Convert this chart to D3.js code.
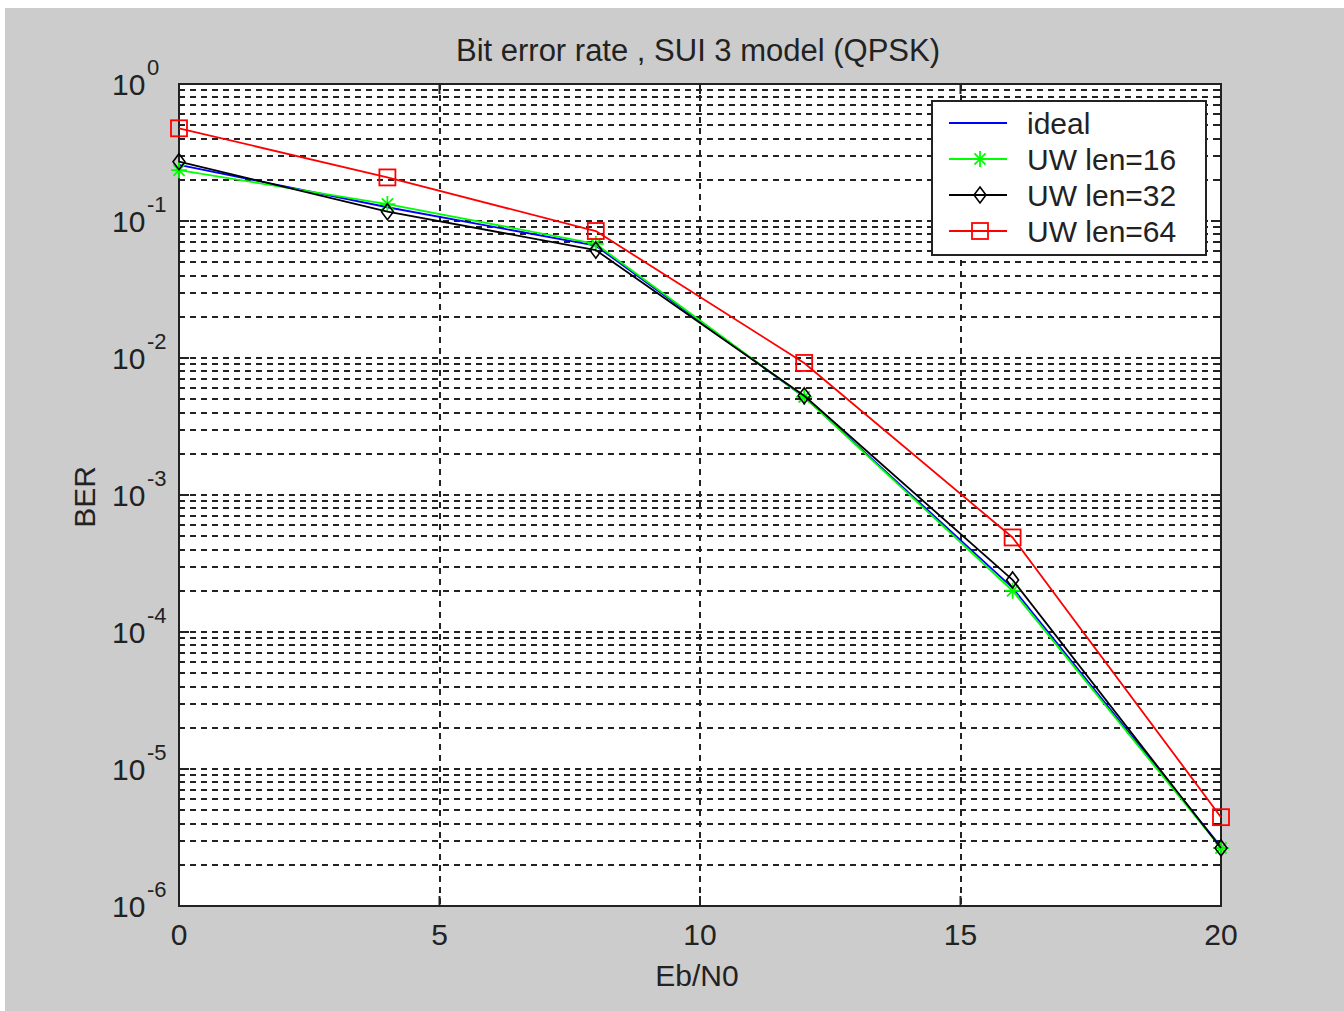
<!DOCTYPE html>
<html>
<head>
<meta charset="utf-8">
<script src="https://cdn.jsdelivr.net/npm/d3@7"></script>
<style>
  body { margin: 0; background: #fff; }
  text { font-family: "Liberation Sans", Arial, sans-serif; fill: #222; }
</style>
</head>
<body>
<svg id="chart" width="1344" height="1011"></svg>
<script>
// values
var ebno = [0, 4, 8, 12, 16, 20]
var ideal = [0.257, 0.126, 0.066, 0.0052, 2.1e-4, 2.7e-6]
var uw16 = [0.235, 0.133, 0.068, 0.0052, 2.0e-4, 2.65e-6]
var uw32 = [0.271, 0.117, 0.0613, 0.0053, 2.4e-4, 2.65e-6]
var uw64 = [0.475, 0.208, 0.0845, 0.0092, 4.9e-4, 4.45e-6]
var xTicks = [0, 5, 10, 15, 20]
var yExponents = [0, -1, -2, -3, -4, -5, -6]
var seriesNames = ["ideal", "UW len=16", "UW len=32", "UW len=64"]

var svg = d3.select("#chart")
var margin = {left: 179, right: 123, top: 84, bottom: 105}
var width = 1344, height = 1011
var fs = 30

svg.append("rect").attr("x", 5).attr("y", 8).attr("width", width - 5).attr("height", height - 8)
  .attr("fill", "#cccccc")

var x = d3.scaleLinear().domain([0, 20]).range([margin.left, width - margin.right])
var y = d3.scaleLog().domain([1e-6, 1]).range([height - margin.bottom, margin.top])

svg.append("rect")
  .attr("x", x(0)).attr("y", y(1))
  .attr("width", x(20) - x(0)).attr("height", y(1e-6) - y(1))
  .attr("fill", "#fff")

// grid
var minor = []
yExponents.forEach(e => {
  if (e === 0) return
  for (var k = 1; k <= 9; k++) minor.push(k * Math.pow(10, e))
})
var grid = svg.append("g").attr("stroke", "#222").attr("stroke-width", 2).attr("stroke-dasharray", "6,5")
grid.selectAll("line.h")
  .data(minor.filter(v => v > 1e-6 && v < 1))
  .enter().append("line")
  .attr("x1", x(0)).attr("x2", x(20))
  .attr("y1", d => Math.round(y(d))).attr("y2", d => Math.round(y(d)))
grid.selectAll("line.v")
  .data(xTicks.slice(1, -1))
  .enter().append("line")
  .attr("x1", d => Math.round(x(d))).attr("x2", d => Math.round(x(d)))
  .attr("y1", y(1)).attr("y2", y(1e-6))

// ticks
var tk = svg.append("g").attr("stroke", "#222").attr("stroke-width", 2)
minor.filter(v => v > 1e-6 && v < 1).forEach(v => {
  var isMajor = Math.abs(Math.log10(v) - Math.round(Math.log10(v))) < 1e-9
  var len = isMajor ? 10 : 5
  var yy = Math.round(y(v))
  tk.append("line").attr("x1", x(0)).attr("x2", x(0) + len).attr("y1", yy).attr("y2", yy)
  tk.append("line").attr("x1", x(20)).attr("x2", x(20) - len).attr("y1", yy).attr("y2", yy)
})
xTicks.forEach(t => {
  tk.append("line").attr("x1", x(t)).attr("x2", x(t)).attr("y1", y(1e-6)).attr("y2", y(1e-6) - 10)
  tk.append("line").attr("x1", x(t)).attr("x2", x(t)).attr("y1", y(1)).attr("y2", y(1) + 10)
})

// axes box
svg.append("rect")
  .attr("x", x(0)).attr("y", y(1))
  .attr("width", x(20) - x(0)).attr("height", y(1e-6) - y(1))
  .attr("fill", "none").attr("stroke", "#222").attr("stroke-width", 2)

// tick labels
svg.append("g").selectAll("text")
  .data(xTicks).enter().append("text")
  .attr("x", d => x(d)).attr("y", y(1e-6) + 39)
  .attr("text-anchor", "middle").attr("font-size", fs)
  .text(d => d)

var yl = svg.append("g").selectAll("g")
  .data(yExponents).enter().append("g")
yl.append("text")
  .attr("x", 112).attr("y", d => y(Math.pow(10, d)) + 11)
  .attr("font-size", fs).text("10")
yl.append("text")
  .attr("x", 147).attr("y", d => y(Math.pow(10, d)) - 9)
  .attr("font-size", 22).text(d => d)

// title and axis labels
svg.append("text").attr("x", 698).attr("y", 61).attr("text-anchor", "middle")
  .attr("font-size", 31).text("Bit error rate , SUI 3 model (QPSK)")
svg.append("text").attr("x", 697).attr("y", 986).attr("text-anchor", "middle")
  .attr("font-size", fs).text("Eb/N0")
svg.append("text").attr("transform", "translate(95,497) rotate(-90)").attr("text-anchor", "middle")
  .attr("font-size", fs).text("BER")

// series
var series = [
  {name: seriesNames[0], values: ideal, color: "#0000ff", marker: "none"},
  {name: seriesNames[1], values: uw16, color: "#00ff00", marker: "star"},
  {name: seriesNames[2], values: uw32, color: "#000000", marker: "diamond"},
  {name: seriesNames[3], values: uw64, color: "#ff0000", marker: "square"}
]

var line = d3.line().x((d, i) => x(ebno[i])).y(d => y(d))

function drawMarker(g, type, cx, cy, color) {
  if (type === "square") {
    g.append("rect").attr("x", cx - 8).attr("y", cy - 8).attr("width", 16).attr("height", 16)
      .attr("fill", "none").attr("stroke", color).attr("stroke-width", 1.8)
  } else if (type === "diamond") {
    g.append("path")
      .attr("d", `M${cx},${cy - 8}L${cx + 6},${cy}L${cx},${cy + 8}L${cx - 6},${cy}Z`)
      .attr("fill", "none").attr("stroke", color).attr("stroke-width", 1.6)
  } else if (type === "star") {
    var r = 8, p = ""
    p += `M${cx - r},${cy}L${cx + r},${cy}`
    p += `M${cx},${cy - r}L${cx},${cy + r}`
    p += `M${cx - r * 0.7},${cy - r * 0.7}L${cx + r * 0.7},${cy + r * 0.7}`
    p += `M${cx - r * 0.7},${cy + r * 0.7}L${cx + r * 0.7},${cy - r * 0.7}`
    g.append("path").attr("d", p).attr("stroke", color).attr("stroke-width", 1.8)
  }
}

series.forEach(s => {
  var g = svg.append("g")
  g.append("path").attr("d", line(s.values))
    .attr("fill", "none").attr("stroke", s.color).attr("stroke-width", 1.8)
    .attr("stroke-linejoin", "round")
  s.values.forEach((v, i) => drawMarker(g, s.marker, x(ebno[i]), y(v), s.color))
})

// legend
var lg = svg.append("g")
lg.append("rect").attr("x", 932).attr("y", 101).attr("width", 274).attr("height", 154)
  .attr("fill", "#fff").attr("stroke", "#222").attr("stroke-width", 2)
series.forEach((s, i) => {
  var cy = 123 + i * 36
  lg.append("line").attr("x1", 949).attr("x2", 1007).attr("y1", cy).attr("y2", cy)
    .attr("stroke", s.color).attr("stroke-width", 1.8)
  drawMarker(lg, s.marker, 980, cy, s.color)
  lg.append("text").attr("x", 1027).attr("y", cy + 11).attr("font-size", fs).text(s.name)
})
</script>
</body>
</html>
